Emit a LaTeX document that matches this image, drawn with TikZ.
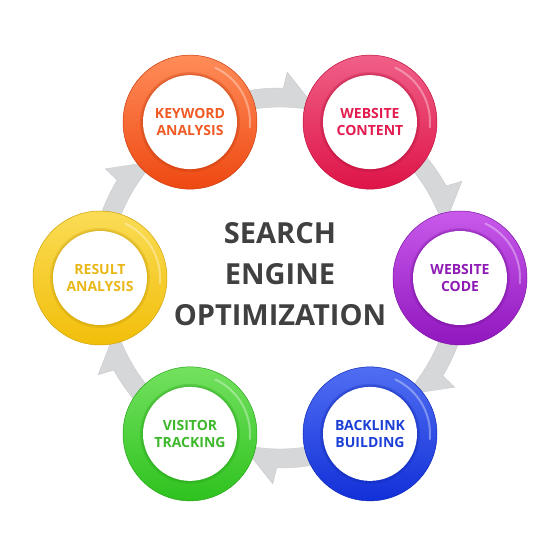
\documentclass[tikz,border=0pt]{standalone}
\usepackage{fontspec}
\setmainfont{Open Sans}
\usetikzlibrary{calc}
\definecolor{bandgray}{RGB}{214,215,217}
\definecolor{bandedge}{RGB}{200,201,204}
\definecolor{centertext}{RGB}{64,64,64}
\definecolor{kwL}{RGB}{255,140,88}\definecolor{kwD}{RGB}{238,72,18}\definecolor{kwT}{RGB}{241,90,36}
\definecolor{wcL}{RGB}{240,95,135}\definecolor{wcD}{RGB}{222,20,72}\definecolor{wcT}{RGB}{227,27,79}
\definecolor{cdL}{RGB}{200,90,235}\definecolor{cdD}{RGB}{145,22,190}\definecolor{cdT}{RGB}{142,27,181}
\definecolor{blL}{RGB}{80,110,242}\definecolor{blD}{RGB}{18,48,216}\definecolor{blT}{RGB}{28,63,214}
\definecolor{vtL}{RGB}{115,225,95}\definecolor{vtD}{RGB}{46,194,30}\definecolor{vtT}{RGB}{61,184,43}
\definecolor{raL}{RGB}{250,220,85}\definecolor{raD}{RGB}{242,190,10}\definecolor{raT}{RGB}{233,184,24}
\begin{document}
\begin{tikzpicture}[x=1pt,y=1pt,
  seoring/.style 2 args={circle, minimum size=134pt, inner sep=0pt, top color=#1, bottom color=#2, draw=#2!85!black, line width=0.5pt},
  seoinner/.style={circle, minimum size=94pt, inner sep=0pt, fill=white, align=center,
     font=\fontsize{14}{17.5}\selectfont\bfseries},
  band/.style={fill=bandgray, draw=bandedge, line width=0.4pt}]
\useasboundingbox (-280,-282) rectangle (280,278);
\coordinate (O) at (0,0);
% gray circular arrows (clockwise)
\foreach \a in {180,120,60,0,-60,-120}{
  \pgfmathsetmacro\bb{\a-60+29}
  \pgfmathsetmacro\bt{\a-60+17}
  \pgfmathsetmacro\bc{\bb-1}
  \path[band] ($(O)+(\a:190)$) arc[start angle=\a, end angle=\bb, radius=190]
     -- ($(O)+(\bc:206)$) -- ($(O)+(\bt:171)$)
     arc[start angle=\bt, end angle=\a, radius=171] -- cycle;
}
% rings
\foreach \ang/\nm/\lc/\dc/\tc/\txt in {
   120/kw/kwL/kwD/kwT/{KEYWORD\\ANALYSIS},
   60/wc/wcL/wcD/wcT/{WEBSITE\\CONTENT},
   0/cd/cdL/cdD/cdT/{WEBSITE\\CODE},
   -60/bl/blL/blD/blT/{BACKLINK\\BUILDING},
   -120/vt/vtL/vtD/vtT/{VISITOR\\TRACKING},
   180/ra/raL/raD/raT/{RESULT\\ANALYSIS}}{
  \node[seoring={\lc}{\dc}] (\nm) at ($(O)+(\ang:180)$) {};
  \draw[white, opacity=0.35, line width=2pt, line cap=round]
     ($(\nm)+(-5:60)$) arc[start angle=-5, end angle=65, radius=60];
  \fill[\dc!80!black, opacity=0.25] (\nm) circle[radius=50];
  \fill[\dc!80!black, opacity=0.25] (\nm) circle[radius=48.5];
  \node[seoinner, text=\tc] (\nm-t) at (\nm) {\txt};
}
\node[align=center, text=centertext, font=\fontsize{29}{41}\selectfont\bfseries] (title) at (0,4)
  {SEARCH\\ENGINE\\OPTIMIZATION};
\end{tikzpicture}
\end{document}
